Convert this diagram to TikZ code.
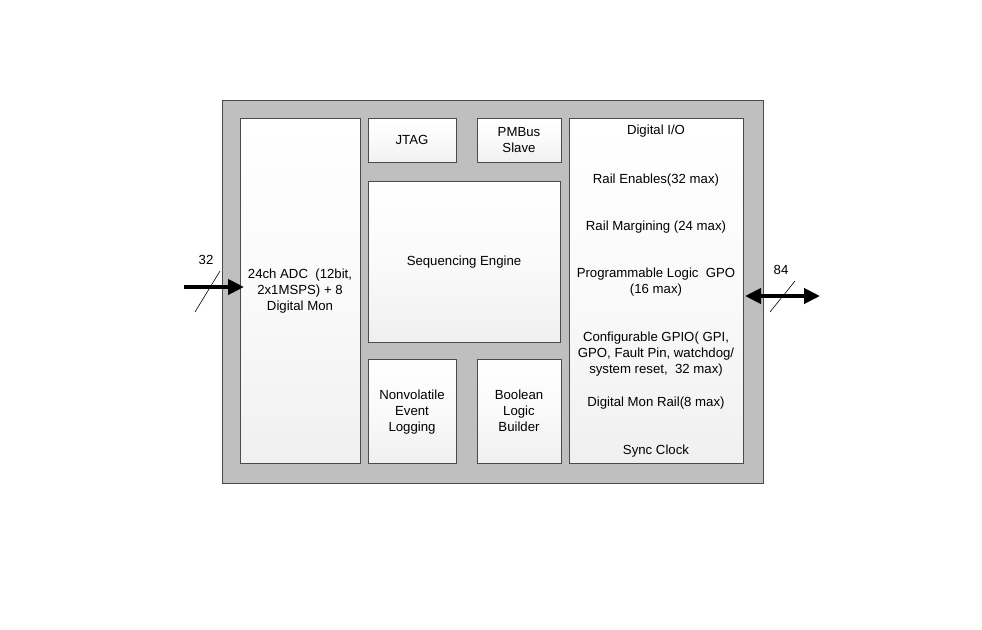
\documentclass[tikz,border=0pt]{standalone}
\usepackage{fontspec}
\setmainfont{Liberation Sans}
\usetikzlibrary{arrows.meta}
\definecolor{framegray}{HTML}{BFBFBF}
\definecolor{edgegray}{HTML}{4A4A4A}
\tikzset{
  blk/.style={draw=edgegray, line width=1pt, top color=white, bottom color=black!6, middle color=black!2, anchor=north west, inner sep=0pt},
  lbl/.style={font=\fontsize{13.2}{16}\selectfont, align=center, inner sep=0pt},
  bus/.style={line width=4pt, -{Triangle[length=16pt,width=15pt]}},
  dbus/.style={line width=4pt, {Triangle[length=16pt,width=15pt]}-{Triangle[length=16pt,width=15pt]}},
  slash/.style={line width=0.6pt}
}
\begin{document}
\begin{tikzpicture}[x=1pt,y=-1pt]
\useasboundingbox (0,0) rectangle (982,629);
\node[draw=edgegray, line width=1pt, fill=framegray, anchor=north west, minimum width=541pt, minimum height=383pt, inner sep=0pt] (frame) at (222,100) {};
\node[blk, minimum width=120pt, minimum height=345pt] (adc) at (240,118) {};
\node[blk, minimum width=88pt, minimum height=44pt] (jtag) at (368,118) {};
\node[blk, minimum width=84pt, minimum height=44pt] (pmbus) at (477,118) {};
\node[blk, minimum width=192pt, minimum height=161pt] (seq) at (368,181) {};
\node[blk, minimum width=88pt, minimum height=104pt] (nvl) at (368,359) {};
\node[blk, minimum width=84pt, minimum height=104pt] (bool) at (477,359) {};
\node[blk, minimum width=174pt, minimum height=345pt] (dio) at (569,118) {};
% texts
\node[lbl] (adct) at (300,291) {24ch ADC\ \ (12bit,\\2x1MSPS) + 8\\Digital Mon};
\node[lbl] (jtagt) at (412,140) {JTAG};
\node[lbl] (pmbt) at (519,140) {PMBus\\Slave};
\node[lbl] (seqt) at (464,262) {Sequencing Engine};
\node[lbl] (nvlt) at (412,412) {Nonvolatile\\Event\\Logging};
\node[lbl] (boolt) at (519,411) {Boolean\\Logic\\Builder};
\node[lbl] (d1) at (656,131) {Digital I/O};
\node[lbl] (d2) at (656,180) {Rail Enables(32 max)};
\node[lbl] (d3) at (656,227) {Rail Margining (24 max)};
\node[lbl] (d4) at (656,282) {Programmable Logic\ \ GPO\\(16 max)};
\node[lbl] (d5) at (656,354) {Configurable GPIO( GPI,\\GPO, Fault Pin, watchdog/\\system reset,\ \ 32 max)};
\node[lbl] (d6) at (656,403) {Digital Mon Rail(8 max)};
\node[lbl] (d7) at (656,451) {Sync Clock};
% connectors
\coordinate (in) at (184,287);
\coordinate (out) at (820,296);
\draw[bus] (in) -- ([xshift=4pt]in -| adc.west);
\draw[slash] (195,312) -- (220,271);
\node[lbl] (n32) at (206,260) {32};
\draw[dbus] ([xshift=1pt]out -| dio.east) -- (out);
\draw[slash] (770,312) -- (795,281);
\node[lbl] (n84) at (781,270) {84};
\end{tikzpicture}
\end{document}
